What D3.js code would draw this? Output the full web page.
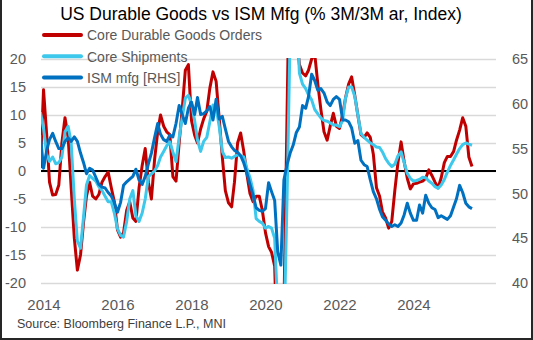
<!DOCTYPE html>
<html>
<head>
<meta charset="utf-8">
<script src="https://cdn.jsdelivr.net/npm/d3@7"></script>
<style>
  body { margin: 0; background: #fff; }
  svg { display: block; font-family: "Liberation Sans", Arial, sans-serif; }
</style>
</head>
<body>
<svg id="chart" width="533" height="340"></svg>
<script>
// Monthly observations, Dec 2013 .. Aug 2025
const months = d3.timeMonth.range(new Date(2013, 11, 1), new Date(2025, 8, 1));

// Core durable goods orders, % 3M/3M annualised (left axis)
const durableOrders = [
  0.5, 14.5, 6.5, -2, -4.3, -4.2, -2.5, 5, 9.5, 6, -3, -12, -17.7, -15, -9, -4.5,
  -2, -4.5, -5, -4.2, -2, -1, -0.2, -3, -5.5, -10.5, -11.8, -11, -7, -5.5, -8.4, -9,
  -3, 1, 4, -2, -5, 2, 7, 10, 8, 7, 6.5, -1, -1.8, 5, 11, 18,
  19, 9, 6.4, 5, 7.5, 9.3, 10.7, 14.8, 17.7, 16, 9.5, 2.5, -3.5, -5.7, -6.4, -2,
  5, 6.8, 3.5, -0.5, -4, -5.5, -4.5, -4.5, -7, -11, -13.5, -14.5, -17, -35, -50, -25,
  10, 45, 40, 25, 19, 17.5, 17, 18, 20, 21, 15.5, 11, 7, 5.5, 8, 10.3,
  8, 7.6, 10, 13, 15.5, 16.8, 13.5, 10, 6.5, 6, 6.8, 6, 3, -3, -4.5, -7.3,
  -8.4, -10.2, -9, -3.5, 1.5, 5.2, 1.7, -1.3, -3.2, -2.3, -2.2, -2, -1.8, -1.3, 0.2, -0.8,
  -2, -3, -1.2, 1.5, 2.6, 2.6, 3.5, 5.5, 7.3, 9.5, 8, 2.5, 0.8
];

// Core shipments, % 3M/3M annualised (left axis)
const coreShipments = [
  10.5, 7.6, 3, 1.7, 2.5, 1.3, 1.5, 2.5, 7, 8, 5, -5, -12.5, -13.8, -8, -2.5,
  -0.8, -1.3, -1.8, -2.8, -3.5, -4.5, -5.5, -5.5, -7.5, -10.3, -11.5, -11.8, -9, -5, -3.5, -8,
  -9, -7.5, -5, -1, -0.5, 0, 1, 2.5, 3.5, 4.5, 5.2, 3.4, 1.7, 6, 9.5, 13,
  13.5, 12, 9, 5.5, 3.5, 5.3, 6, 8.8, 11.8, 11.3, 8, 3.5, 2.4, 2.5, 2.3, 2.6,
  2.9, 2.7, 2.5, 0.5, -1.2, -3.5, -8.5, -9, -9.3, -10.2, -9.9, -10.2, -12, -25, -45, -30,
  -5, 25, 45, 30, 17.5, 15.5, 14.7, 13.6, 12.7, 11, 10.2, 9.5, 9, 8.9, 8.6, 8.2,
  8.2, 7.9, 9, 13, 15, 15, 13.3, 10, 6.7, 6, 5.5, 5, 4.7, 4.3, 4.2, 3.4,
  2.2, 1.4, 0.8, 1.2, 2.7, 3.4, 1.5, -0.4, -1.3, -1.8, -1.7, -1.5, -1.1, -1.2, -1.8, -2.2,
  -2.8, -3.1, -2.5, -1.5, -0.2, 1, 2, 3, 4, 4.7, 5, 4.8, 4.6
];

// ISM manufacturing index (right axis)
const ismMfg = [
  56.5, 52.8, 54.8, 56, 56.7, 55.8, 55, 55, 55.8, 56.2, 55.8, 56.3, 55.8, 54.5, 53.4, 52.2,
  52.8, 52.6, 51.8, 51, 50.7, 50.6, 50.1, 49.7, 49, 47.9, 49, 50.9, 51.3, 51.6, 51.9, 52.7,
  51.5, 51, 51.9, 53.3, 54.5, 56.2, 57.8, 56.6, 56, 55.8, 56.5, 56.3, 57.8, 59.8, 58.8, 57.8,
  59.5, 60.2, 58.8, 60.7, 58.8, 58.9, 59.2, 59.7, 58.2, 60.5, 58.3, 58.6, 57.2, 55.8, 55.2, 54.8,
  54.6, 54.2, 53.4, 52.3, 51, 49.8, 48.4, 48.1, 48, 48.3, 51.2, 50.2, 49.2, 43.5, 42, 51.5,
  53.2, 54.5, 55.4, 56.8, 57.4, 59.8, 59.5, 60.8, 63.3, 62.6, 61.5, 61.7, 61.2, 60.2, 59.8, 60.5,
  60.8, 60.5, 58.2, 58.2, 58, 57.3, 55.6, 55.9, 53.7, 53.2, 53, 51.5, 50.2, 49.4, 48.2, 47.4,
  47, 46.6, 46.3, 46.5, 46.3, 46.7, 47.6, 48.9, 47.8, 47, 47, 48.7, 47.8, 49.8, 48.9, 48.4,
  48.2, 47.3, 47.5, 47.3, 47.1, 47.5, 48.5, 49.4, 50.9, 50.1, 48.9, 48.5, 48.3
];

const leftTicks = [-20, -15, -10, -5, 0, 5, 10, 15, 20];
const rightTicks = [40, 45, 50, 55, 60, 65];
const yearTicks = [2014, 2016, 2018, 2020, 2022, 2024];

const seriesList = [
  { name: 'Core Durable Goods Orders', values: durableOrders, color: '#C00000', axis: 'left' },
  { name: 'Core Shipments', values: coreShipments, color: '#3DC8EC', axis: 'left' },
  { name: 'ISM mfg [RHS]', values: ismMfg, color: '#0070C0', axis: 'right' }
];

const width = 533;
const height = 340;
const plot = { left: 41, right: 496, top: 59, bottom: 283 };

const svg = d3.select('#chart');

// Outer frame (left, right, bottom edges)
svg.append('path')
  .attr('d', `M1,0 V${height - 1} H${width - 1} V0`)
  .attr('fill', 'none')
  .attr('stroke', '#262626')
  .attr('stroke-width', 2);

// Scales
const x = d3.scaleTime()
  .domain([new Date(2013, 11, 7), new Date(2026, 2, 26)])
  .range([plot.left, plot.right]);

const yLeft = d3.scaleLinear()
  .domain([-20, 20])
  .range([plot.bottom, plot.top]);

const yRight = d3.scaleLinear()
  .domain([40, 65])
  .range([plot.bottom, plot.top]);

// Horizontal gridlines
svg.append('g')
  .attr('class', 'grid')
  .attr('transform', `translate(${plot.left},0)`)
  .call(d3.axisLeft(yLeft)
    .tickValues(leftTicks)
    .tickSize(-(plot.right - plot.left))
    .tickFormat(''))
  .call(g => g.select('.domain').remove())
  .call(g => g.selectAll('line')
    .attr('stroke', '#D9D9D9')
    .attr('stroke-width', 1.5));

// Left axis labels
svg.append('g')
  .attr('transform', `translate(${plot.left},0)`)
  .call(d3.axisLeft(yLeft)
    .tickValues(leftTicks)
    .tickSize(0)
    .tickPadding(15)
    .tickFormat(d => String(d)))
  .call(g => g.select('.domain').remove())
  .call(g => g.selectAll('text')
    .attr('fill', '#595959')
    .style('font-size', '14.5px'));

// Right axis labels
svg.append('g')
  .attr('transform', `translate(${plot.right},0)`)
  .call(d3.axisRight(yRight)
    .tickValues(rightTicks)
    .tickSize(0)
    .tickPadding(16)
    .tickFormat(d => String(d)))
  .call(g => g.select('.domain').remove())
  .call(g => g.selectAll('text')
    .attr('fill', '#595959')
    .style('font-size', '14.5px'));

// Year labels along the bottom
svg.append('g')
  .attr('transform', `translate(0,${plot.bottom})`)
  .call(d3.axisBottom(x)
    .tickValues(yearTicks.map(yr => new Date(yr, 0, 1)))
    .tickSize(0)
    .tickPadding(16)
    .tickFormat(d3.timeFormat('%Y')))
  .call(g => g.select('.domain').remove())
  .call(g => g.selectAll('text')
    .attr('fill', '#595959')
    .style('font-size', '15px'));

// Zero line
svg.append('line')
  .attr('x1', plot.left)
  .attr('x2', plot.right)
  .attr('y1', yLeft(0))
  .attr('y2', yLeft(0))
  .attr('stroke', '#000')
  .attr('stroke-width', 2);

// Clip the series to the plot area (2020 swings run off the scale)
svg.append('defs')
  .append('clipPath')
  .attr('id', 'plot-clip')
  .append('rect')
  .attr('x', plot.left)
  .attr('y', plot.top - 1)
  .attr('width', plot.right - plot.left)
  .attr('height', plot.bottom - plot.top + 2);

const lines = svg.append('g').attr('clip-path', 'url(#plot-clip)');

seriesList.forEach(s => {
  const yScale = s.axis === 'left' ? yLeft : yRight;
  const line = d3.line()
    .x((d, i) => x(months[i]))
    .y(d => yScale(d));

  lines.append('path')
    .datum(s.values)
    .attr('fill', 'none')
    .attr('stroke', s.color)
    .attr('stroke-width', 3)
    .attr('stroke-linejoin', 'round')
    .attr('d', line);
});

// Title
svg.append('text')
  .attr('x', 261)
  .attr('y', 19.5)
  .attr('text-anchor', 'middle')
  .attr('fill', '#000')
  .style('font-size', '17.5px')
  .text('US Durable Goods vs ISM Mfg (% 3M/3M ar, Index)');

// Legend
const legend = svg.append('g')
  .attr('class', 'legend')
  .attr('transform', 'translate(42,35)');

const items = legend.selectAll('.item')
  .data(seriesList)
  .enter()
  .append('g')
  .attr('class', 'item')
  .attr('transform', (d, i) => `translate(0,${i * 21.3})`);

items.append('line')
  .attr('x1', 2)
  .attr('x2', 39)
  .attr('stroke', d => d.color)
  .attr('stroke-width', 4)
  .attr('stroke-linecap', 'round');

items.append('text')
  .attr('x', 45)
  .attr('y', 5.3)
  .attr('fill', '#595959')
  .style('font-size', '14px')
  .text(d => d.name);

// Source note
svg.append('text')
  .attr('x', 17)
  .attr('y', 327.5)
  .attr('fill', '#404040')
  .style('font-size', '12.5px')
  .text('Source: Bloomberg Finance L.P., MNI');
</script>
</body>
</html>
